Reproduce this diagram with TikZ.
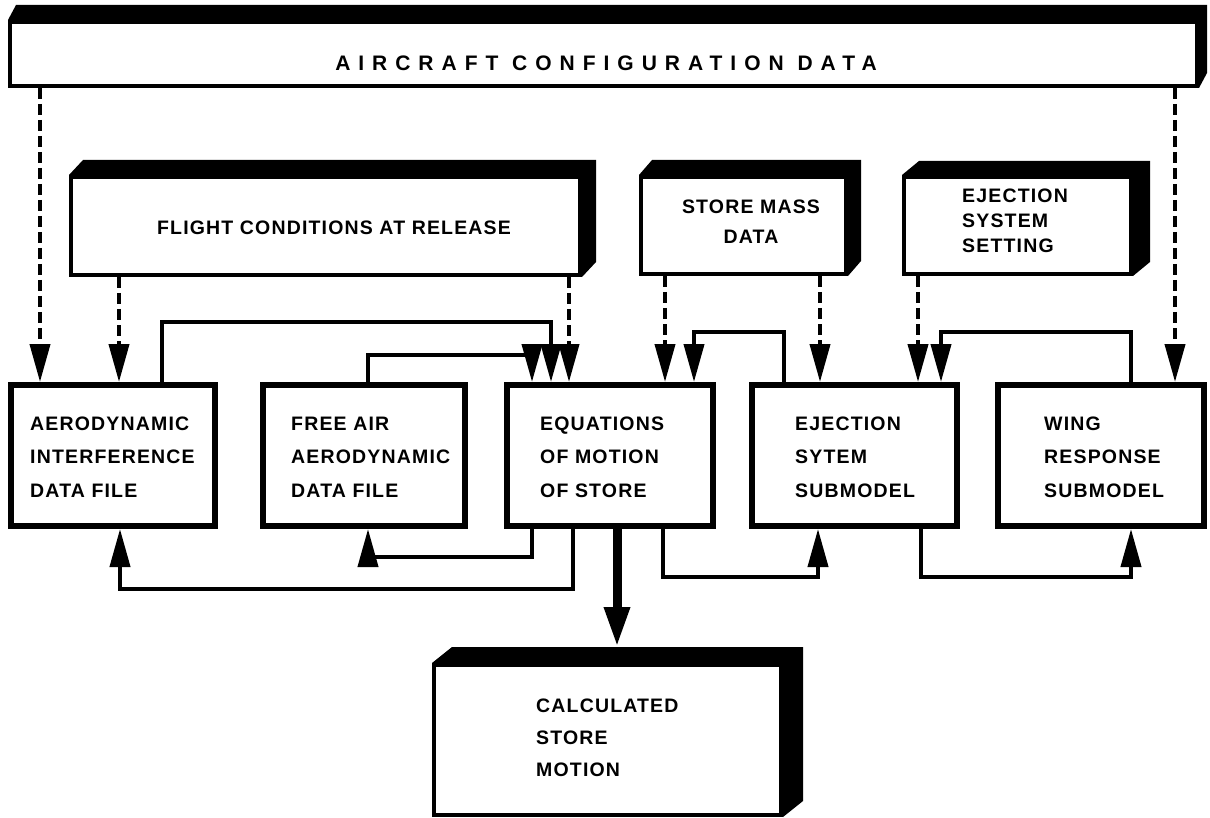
\documentclass[tikz,border=0pt]{standalone}
\usepackage{fontspec}
\newfontfamily\lblfont{Liberation Sans}[LetterSpace=6]
\newfontfamily\cfgfont{Liberation Sans}[LetterSpace=38]
\usetikzlibrary{arrows.meta}
\newcommand\bandbox[3]{%
  \fill (#1.north west) -- ++(#2,-#3) -- ([shift={(#2,-#3)}]#1.north east)
    -- ([shift={(#2,-#3)}]#1.south east) -- (#1.south east) -- (#1.north east) -- cycle;}
\begin{document}
\begin{tikzpicture}[x=1pt,y=-1pt,
  face/.style={draw, line width=4pt, inner sep=0pt},
  rowbox/.style={draw, line width=6pt, inner sep=0pt, minimum height=141pt},
  lbl/.style={font=\lblfont\bfseries\fontsize{19.5pt}{#1}\selectfont, inner sep=0pt, align=left, anchor=west},
  lbl/.default=33.5pt,
  conn/.style={line width=4pt},
  dashconn/.style={line width=4pt, dash pattern=on 11pt off 5pt},
  arr/.style={-{Triangle[length=38pt,width=20pt]}},
]
\useasboundingbox (0,0) rectangle (1210,818);

% top-row boxes (3D)
\node[face, minimum width=1187pt, minimum height=64pt] (cfg) at (603.5,54) {};
\bandbox{cfg}{8}{15}
\node[face, minimum width=509pt, minimum height=98pt] (flight) at (325.5,226) {};
\bandbox{flight}{14}{15}
\node[face, minimum width=205pt, minimum height=97pt] (store) at (743.5,225.5) {};
\bandbox{store}{13}{15}
\node[face, minimum width=227pt, minimum height=97pt] (ejset) at (1017.5,225.5) {};
\bandbox{ejset}{17}{14}
\node[face, minimum width=347pt, minimum height=150pt] (calc) at (607.5,740) {};
\bandbox{calc}{20}{16}
\coordinate (calctop) at ([yshift=16pt]calc.north);

% middle row boxes
\node[rowbox, minimum width=204pt] (aero) at (113,455.5) {};
\node[rowbox, minimum width=202pt] (free) at (364,455.5) {};
\node[rowbox, minimum width=206pt] (eq) at (610,455.5) {};
\node[rowbox, minimum width=205pt] (ejsub) at (854.5,455.5) {};
\node[rowbox, minimum width=206pt] (wing) at (1101,455.5) {};

% texts
\node[font=\cfgfont\bfseries\fontsize{21pt}{24pt}\selectfont, inner sep=0pt] (cfgt) at (606,63) {AIRCRAFT CONFIGURATION DATA};
\node[lbl, anchor=center, align=center] (flightt) at (334,228) {FLIGHT CONDITIONS AT RELEASE};
\node[lbl=30pt, anchor=center, align=center] (storet) at (751,222) {STORE MASS\\DATA};
\node[lbl=25pt] (ejsett) at (962,221) {EJECTION\\SYSTEM\\SETTING};
\node[lbl] (aerot) at (30,457) {AERODYNAMIC\\INTERFERENCE\\DATA FILE};
\node[lbl] (freet) at (291,457) {FREE AIR\\AERODYNAMIC\\DATA FILE};
\node[lbl] (eqt) at (540,457) {EQUATIONS\\OF MOTION\\OF STORE};
\node[lbl] (ejsubt) at (795,457) {EJECTION\\SYTEM\\SUBMODEL};
\node[lbl] (wingt) at (1044,457) {WING\\RESPONSE\\SUBMODEL};
\node[lbl=32pt] (calct) at (536,738) {CALCULATED\\STORE\\MOTION};

% dashed data inputs
\draw[dashconn, arr] (40,0 |- cfg.south) -- (40,0 |- aero.north);
\draw[dashconn, arr] (1175,0 |- cfg.south) -- (1175,0 |- wing.north);
\draw[dashconn, arr] (119,0 |- flight.south) -- (119,0 |- aero.north);
\draw[dashconn, arr] (569,0 |- flight.south) -- (569,0 |- eq.north);
\draw[dashconn, arr] (665,0 |- store.south) -- (665,0 |- eq.north);
\draw[dashconn, arr] (820,0 |- store.south) -- (820,0 |- ejsub.north);
\draw[dashconn, arr] (918,0 |- ejset.south) -- (918,0 |- ejsub.north);

% upper feedback loops
\draw[conn, arr] (162,0 |- aero.north) -- (162,322) -- (551,322) -- (551,0 |- eq.north);
\draw[conn, arr] (368,0 |- free.north) -- (368,355) -- (532,355) -- (532,0 |- eq.north);
\draw[conn, arr] (784,0 |- ejsub.north) -- (784,332) -- (694,332) -- (694,0 |- eq.north);
\draw[conn, arr] (1131,0 |- wing.north) -- (1131,332) -- (941,332) -- (941,0 |- ejsub.north);

% lower loops
\draw[conn, arr] (532,0 |- eq.south) -- (532,557) -- (368,557) -- (368,0 |- free.south);
\draw[conn, arr] (573,0 |- eq.south) -- (573,589) -- (120,589) -- (120,0 |- aero.south);
\draw[conn, arr] (663,0 |- eq.south) -- (663,577) -- (818,577) -- (818,0 |- ejsub.south);
\draw[conn, arr] (921,0 |- ejsub.south) -- (921,577) -- (1131,577) -- (1131,0 |- wing.south);

% output
\draw[line width=9pt, -{Triangle[length=40pt,width=24pt]}] (617,0 |- eq.south) -- (617,0 |- calctop);
\end{tikzpicture}
\end{document}
